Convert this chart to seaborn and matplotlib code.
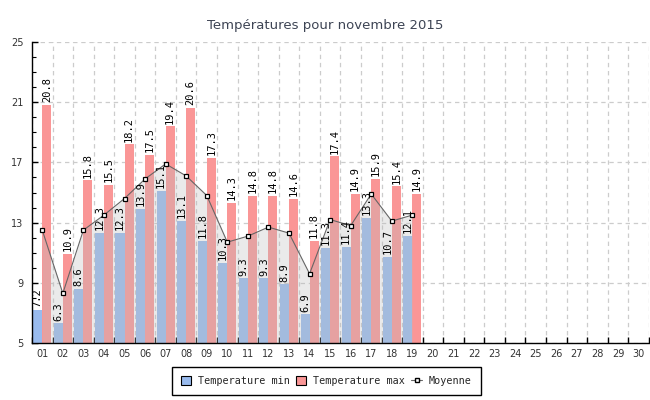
import numpy as np
import pandas as pd
import seaborn as sns
import matplotlib.pyplot as plt
from matplotlib.patches import Patch
from matplotlib.lines import Line2D
from matplotlib.ticker import MultipleLocator, FixedLocator

days = ['%02d' % d for d in range(1, 31)]
temp_min = [7.2, 6.3, 8.6, 12.3, 12.3, 13.9, 15.1, 13.1, 11.8, 10.3,
            9.3, 9.3, 8.9, 6.9, 11.3, 11.4, 13.3, 10.7, 12.1]
temp_max = [20.8, 10.9, 15.8, 15.5, 18.2, 17.5, 19.4, 20.6, 17.3, 14.3,
            14.8, 14.8, 14.6, 11.8, 17.4, 14.9, 15.9, 15.4, 14.9]
moyenne = [12.5, 8.3, 12.5, 13.5, 14.6, 15.9, 16.9, 16.1, 14.8, 11.7,
           12.1, 12.7, 12.3, 9.6, 13.2, 12.8, 14.9, 13.1, 13.5]
y_ticks = [5, 9, 13, 17, 21, 25]

n = len(temp_min)
df = pd.DataFrame({
    'day': days[:n] * 2,
    'value': temp_min + temp_max,
    'serie': ['Temperature min'] * n + ['Temperature max'] * n,
})

sns.set_theme(style='white')
plt.rcParams['font.family'] = ['DejaVu Sans']

blue = '#99bbee'
red = '#fa9696'
mono = 'DejaVu Sans Mono'

fig = plt.figure(figsize=(6.5, 4), dpi=100)
ax = fig.add_axes([0.0492, 0.1425, 0.949, 0.7525])

sns.barplot(data=df, x='day', y='value', hue='serie', order=days,
            hue_order=['Temperature min', 'Temperature max'],
            palette=[blue, red], width=0.88, gap=0, saturation=1,
            linewidth=0, legend=False, ax=ax, zorder=2)

x = np.arange(n)
ax.fill_between(x, 5, moyenne, color='#bbbbbb', alpha=0.3, linewidth=0, zorder=3)
ax.plot(x, moyenne, color='#666666', linewidth=0.8, marker='s', markersize=3.2,
        markerfacecolor='white', markeredgecolor='black', markeredgewidth=0.9,
        zorder=4)

for cont in ax.containers:
    ax.bar_label(cont, fmt='%.1f', rotation=90, padding=2, fontsize=7.5,
                 family=mono, color='black', zorder=5)

ax.set_xlim(-0.5, 29.5)
ax.set_ylim(5, 25)
ax.set_xlabel('')
ax.set_ylabel('')

# ticks: boundaries for marks/grid, centers for labels
ax.xaxis.set_major_locator(FixedLocator(np.arange(-0.5, 30, 1)))
ax.xaxis.set_minor_locator(FixedLocator(np.arange(30)))
ax.set_xticklabels([], minor=False)
ax.set_xticklabels(days, minor=True)
ax.tick_params(axis='x', which='major', direction='in', length=4, width=1,
               color='black', bottom=True)
ax.tick_params(axis='x', which='minor', length=0, labelsize=7,
               labelcolor='#333333', pad=4)

ax.yaxis.set_major_locator(FixedLocator(y_ticks))
ax.yaxis.set_minor_locator(MultipleLocator(1))
ax.tick_params(axis='y', which='major', direction='in', length=4, width=1,
               color='black', left=True, labelsize=7, labelcolor='#333333', pad=6)
ax.tick_params(axis='y', which='minor', direction='in', length=3, width=0.8,
               color='black', left=True)

ax.grid(True, which='major', color='#cccccc', linestyle=(0, (3.5, 3)), linewidth=0.9)
ax.set_axisbelow(True)

for side in ['top', 'right']:
    ax.spines[side].set_visible(False)
for side in ['left', 'bottom']:
    ax.spines[side].set_color('black')
    ax.spines[side].set_linewidth(1)
    ax.spines[side].set_zorder(6)

fig.text(0.5, 0.9375, 'Températures pour novembre 2015', ha='center', va='center',
         fontsize=9.5, color='#3d4454')

handles = [
    Patch(facecolor=blue, edgecolor='black', linewidth=0.8, label='Temperature min'),
    Patch(facecolor=red, edgecolor='black', linewidth=0.8, label='Temperature max'),
    Line2D([], [], color='#666666', linewidth=0.8, marker='s', markersize=3,
           markerfacecolor='white', markeredgecolor='black', label='Moyenne'),
]
leg = fig.legend(handles=handles, loc='center', bbox_to_anchor=(0.502, 0.048),
                 ncol=3, frameon=True, fancybox=False, framealpha=1,
                 prop={'family': mono, 'size': 7.3}, handlelength=1.0,
                 handleheight=1.0, handletextpad=0.7, columnspacing=0.6,
                 borderpad=0.9)
leg.get_frame().set_edgecolor('black')
leg.get_frame().set_linewidth(1)

fig.savefig('out.png', dpi=100)
